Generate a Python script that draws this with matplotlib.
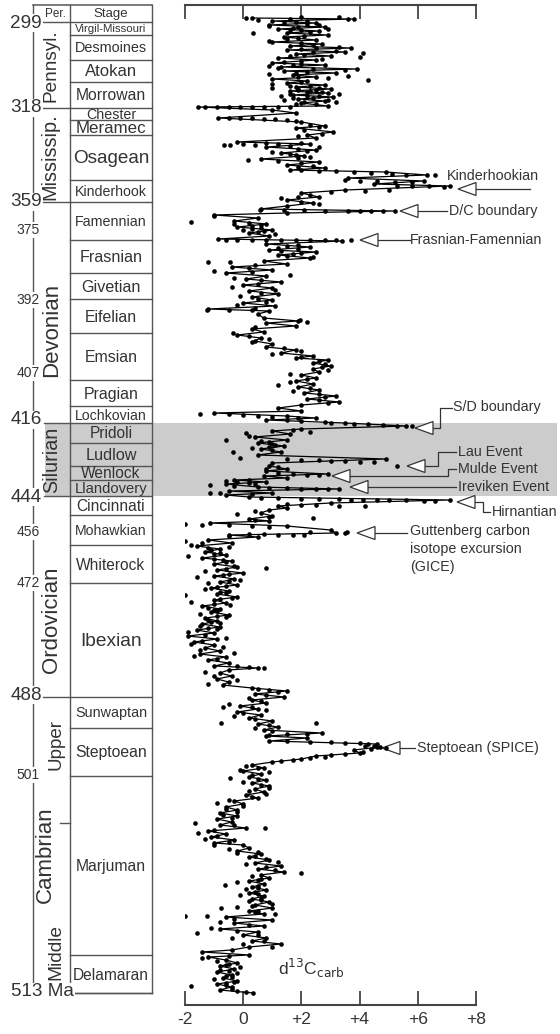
import numpy as np
import matplotlib.pyplot as plt
from matplotlib.patches import Rectangle, Polygon

plt.rcParams['font.family'] = ['Liberation Sans', 'DejaVu Sans']

# ---- stratigraphic column (position units: 5 = top, 993 = base) ----
stage_names = ['Virgil-Missouri', 'Desmoines', 'Atokan', 'Morrowan', 'Chester', 'Meramec',
               'Osagean', 'Kinderhook', 'Famennian', 'Frasnian', 'Givetian', 'Eifelian',
               'Emsian', 'Pragian', 'Lochkovian', 'Pridoli', 'Ludlow', 'Wenlock', 'Llandovery',
               'Cincinnati', 'Mohawkian', 'Whiterock', 'Ibexian', 'Sunwaptan', 'Steptoean',
               'Marjuman', 'Delamaran']
stage_edges = [22, 35, 60, 82, 108, 120, 135, 180, 202, 240, 273, 299, 333, 380, 406, 423,
               443, 466, 480, 496, 515, 545, 583, 697, 728, 776, 955, 993]

period_names = ['Pennsyl.', 'Mississip.', 'Devonian', 'Silurian', 'Ordovician', 'Upper',
                'Cambrian', 'Middle']
period_mid = [66, 157, 330, 460, 620, 744, 855, 952]

age_labels = ['299', '318', '359', '375', '392', '407', '416', '444', '456', '472', '488',
              '501', '513 Ma']
age_pos = [23, 108, 202, 230, 300, 373, 420, 497, 532, 583, 695, 775, 992]
major_ages = ['299', '318', '359', '416', '444', '488', '513 Ma']

# Silurian interval (shaded)
silurian = (423, 496)

# ---- d13C carb: running trace (position, permil) ----
trace = np.array([
    (18, 0.3), (19, 3.8), (21, 1.0), (23, 2.5), (25, 0.9), (27, 2.8), (29, 1.2), (31, 2.6),
    (33, 1.5), (35, 2.9), (37, 1.4), (40, 2.5), (42, 1.0), (44, 2.7), (46, 1.6), (48, 3.7),
    (50, 1.5), (52, 3.5), (54, 1.8), (56, 3.0), (58, 1.2), (60, 2.5), (63, 1.0), (65, 2.8),
    (67, 1.3), (69, 3.9), (71, 1.4), (73, 3.2), (75, 1.7), (77, 2.5), (79, 1.0), (81, 2.2),
    (83, 1.5), (85, 2.8), (87, 1.8), (89, 3.0), (91, 1.6), (93, 2.9), (95, 1.7), (97, 3.1),
    (99, 1.9), (101, 2.8), (103, 2.0), (106, 2.9), (107, -1.55), (110, 1.0), (113, 1.8),
    (118, -0.85), (122, 2.0), (126, 2.8), (128, 1.8), (132, 3.1), (135, 2.2), (138, 2.5),
    (142, -0.2), (144, 2.3), (147, 0.8), (150, 2.5), (153, 1.3), (156, 2.1), (159, 0.6),
    (162, 2.6), (165, 1.5), (168, 2.8), (170, 1.6), (172, 4.9), (175, 6.3), (178, 3.6),
    (181, 6.2), (184, 4.5), (186, 7.1), (190, 3.5), (193, 2.0), (197, 2.6), (200, 1.5),
    (203, 2.4), (206, 1.5), (209, 0.6), (211, 5.2), (213, 1.5), (215, -1.0), (218, 0.5),
    (221, -0.3), (224, 0.8), (227, -0.2), (230, 1.0), (233, 0.2), (236, 0.9), (239, -0.85),
    (241, 3.4), (244, 0.8), (247, 2.3), (250, 0.9), (252, 2.5), (255, 1.2), (258, 2.3),
    (261, 0.7), (264, 1.5), (267, -0.4), (270, 1.0), (273, -0.6), (276, 0.8), (279, 0.1),
    (282, 1.3), (285, 0.0), (288, 1.0), (291, 0.2), (294, 1.2), (297, 0.3), (300, 1.0),
    (303, 0.0), (306, 1.1), (309, -1.2), (311, 0.9), (314, 0.5), (318, 0.7), (321, 1.9),
    (323, 0.8), (326, 1.8), (329, 0.3), (332, 0.7), (335, -0.2), (338, 0.6), (341, 0.4),
    (344, 1.0), (347, 0.8), (350, 1.8), (353, 1.3), (356, 2.4), (358, 1.8), (360, 2.9),
    (363, 2.4), (366, 3.0), (369, 2.4), (372, 2.6), (375, 2.0), (378, 2.5), (381, 1.8),
    (384, 2.4), (387, 1.9), (390, 2.6), (393, 2.1), (396, 3.2), (399, 2.2), (402, 3.3),
    (405, 2.0), (408, 1.2), (411, 2.0), (413, -1.0), (416, 1.5), (418, 2.5), (420, 0.8),
    (423, 3.5), (426, 5.6), (429, 2.0), (431, 1.0), (434, 1.6), (437, 0.4), (440, 1.5),
    (443, 0.5), (446, 1.4), (449, 0.6), (452, 1.3), (455, 0.5), (459, 4.9), (463, 1.0),
    (466, 0.9), (469, 1.5), (471, 0.8), (474, 2.9), (476, 0.7), (478, 1.5), (480, -0.3),
    (482, 0.8), (484, -0.6), (487, 0.5), (489, 3.3), (491, -0.5), (493, 1.0), (495, -0.6),
    (497, 0.2), (500, 7.1), (503, 3.0), (506, 1.2), (508, 1.5), (510, 0.9), (513, 0.6),
    (516, 1.0), (519, 0.2), (521, 0.9), (523, -1.15), (526, 1.5), (530, 3.0), (533, 3.2),
    (535, -0.5), (537, 0.5), (540, -1.2), (543, -0.4), (546, -1.6), (549, -0.8), (552, -1.3),
    (555, -0.6), (558, -1.4), (561, -0.4), (564, -1.0), (567, -0.2), (570, -0.9), (573, 0.0),
    (576, -1.0), (579, -0.3), (582, -0.8), (585, -0.2), (588, -1.1), (591, -0.5), (594, -0.9),
    (597, -0.2), (600, -1.0), (603, -0.6), (606, -1.4), (609, -0.8), (612, -1.1), (615, -0.5),
    (618, -1.3), (621, -0.9), (624, -1.4), (627, -0.8), (630, -1.6), (633, -1.0), (636, -1.9),
    (639, -0.9), (642, -1.7), (645, -1.0), (648, -1.3), (651, -0.8), (654, -1.5), (657, -0.6),
    (660, -1.2), (663, -0.5), (666, -1.0), (668, 0.5), (670, -0.5), (673, -0.8), (676, -0.4),
    (679, -0.9), (682, -0.5), (685, -0.7), (688, 0.3), (691, 1.5), (694, 0.4), (697, 1.4),
    (700, 0.3), (703, 0.8), (706, -0.1), (709, 0.5), (712, -0.2), (715, 0.6), (718, 0.2),
    (721, 1.0), (724, 0.5), (727, 1.2), (730, 0.7), (733, 2.7), (736, 0.8), (738, 2.2),
    (741, 0.9), (744, 4.6), (747, 4.7), (750, 3.8), (753, 4.0), (756, 2.5), (759, 2.0),
    (762, 1.0), (765, 0.3), (768, 0.7), (771, 0.0), (774, 0.6), (777, 0.2), (780, 0.8),
    (783, 0.3), (786, 0.9), (789, 0.4), (792, 0.7), (795, 0.1), (798, 0.5), (801, -0.3),
    (804, 0.0), (807, -0.6), (810, -0.2), (813, -0.8), (816, -0.2), (819, -0.9), (822, -0.4),
    (825, -0.8), (828, 0.1), (831, -1.2), (834, -0.6), (837, -1.1), (840, -0.3), (843, -1.0),
    (845, 0.0), (848, 0.2), (851, -0.2), (854, 0.6), (857, 0.2), (860, 0.9), (863, 0.4),
    (866, 1.3), (869, 0.5), (872, 1.4), (875, 0.6), (878, 0.9), (881, 0.2), (884, 0.7),
    (887, 0.3), (890, 0.8), (893, 0.2), (896, 0.7), (899, 0.3), (902, 0.9), (905, 0.4),
    (908, 1.0), (911, 0.2), (914, 0.7), (917, -0.6), (920, 1.0), (923, -0.3), (926, 0.7),
    (929, -0.8), (932, 0.5), (935, 0.0), (938, 0.8), (941, 0.3), (944, 1.3), (947, 0.2),
    (950, -0.4), (952, -1.4), (955, 0.2), (957, -1.2), (960, -0.6), (963, -0.2), (966, -0.8),
    (969, -0.3), (972, -0.9), (975, -0.4), (978, -0.7), (981, -0.2), (984, -0.9), (987, -0.4),
    (990, -0.8), (993, 0.35),
])

# ---- individual samples not on the trace vertices ----
samples = np.array([
    (18, 0.1), (20, 0.5), (17, 2.0), (17, 3.3), (19, 3.6), (22, 1.8), (24, 2.2), (26, 0.9),
    (28, 1.7), (30, 2.0), (32, 2.3), (33, 0.35), (38, 1.9), (41, 0.9), (45, 2.4), (47, 3.3),
    (49, 2.0), (51, 3.2), (53, 4.1), (55, 2.1), (57, 4.0), (59, 2.7), (62, 1.4), (64, 2.0),
    (66, 0.9), (68, 1.2), (70, 3.5), (72, 2.2), (74, 0.9), (76, 3.6), (78, 2.9), (80, 4.3),
    (82, 2.0), (84, 1.0), (86, 2.3), (88, 1.0), (90, 2.5), (92, 2.2), (94, 3.3), (96, 1.3),
    (98, 2.4), (100, 1.4), (102, 3.2), (104, 2.5),
    (19, 1.6), (21, 2.2), (23, 1.4), (25, 2.6), (27, 1.9), (29, 2.9), (31, 1.6), (36, 2.1),
    (39, 1.5), (43, 2.0), (48, 2.5), (52, 2.4), (56, 1.6), (61, 2.0), (65, 1.7), (69, 2.4),
    (73, 1.8), (77, 1.9), (86, 1.6), (88, 2.6), (90, 1.9), (92, 2.7), (94, 1.6), (96, 2.2),
    (98, 1.7), (100, 2.9), (102, 2.1), (104, 1.8), (96, 2.6), (91, 2.3), (89, 1.9),
    (107, -1.3), (107, -0.9), (107, -0.5), (107, -0.1), (107, 0.3), (107, 0.7), (107, 1.2),
    (107, 1.6), (118, -0.5), (118, -0.1), (118, 0.3), (119, 0.7), (119, 1.1), (120, 1.5),
    (121, 1.8), (125, 2.3), (127, 2.6), (130, 2.1), (134, 2.7), (136, 1.9),
    (145, -0.65), (145, -0.45), (144, 0.0), (145, 0.4), (143, 0.8), (144, 1.2), (146, 1.6),
    (143, 2.0), (147, 2.6), (152, 1.0), (155, 1.8), (157, 2.3), (160, 0.17), (161, 1.2),
    (163, 2.0), (166, 2.4), (167, 1.9), (149, 1.9), (151, 2.2), (154, 1.6), (158, 1.9),
    (170, 2.0), (171, 2.6), (171, 3.2), (172, 3.8), (173, 4.4), (174, 5.1), (175, 5.6),
    (175, 6.6), (180, 3.5), (181, 4.0), (181, 4.6), (182, 5.2), (182, 5.8), (186, 5.3),
    (186, 5.8), (186, 6.4), (187, 6.9), (190, 5.0), (191, 4.2), (192, 3.0), (195, 2.3),
    (197, 1.9), (198, 1.3), (202, 2.0), (204, 2.6),
    (210, 0.57), (210, 1.4), (210, 2.1), (211, 2.8), (211, 3.6), (211, 4.0), (211, 4.4),
    (211, 4.8), (216, -1.0), (222, -1.8), (224, -0.3), (226, 0.3), (228, 0.6), (230, 0.0),
    (232, 0.5), (234, 1.1), (223, 0.2), (225, 0.6), (229, 0.3), (231, 0.7),
    (240, -0.6), (240, -0.2), (240, 0.3), (240, 0.8), (240, 1.3), (240, 1.8), (240, 2.3),
    (240, 2.8), (240, 3.2), (240, 3.7), (246, 1.5), (249, 1.9), (251, 1.3), (254, 1.7),
    (257, 2.4), (262, -1.2), (262, -0.45), (265, 0.4), (268, 0.2), (271, -1.0), (272, 0.3),
    (275, 1.6), (278, -0.3), (280, 0.6), (284, 0.5), (287, -0.4), (290, 1.1), (293, 0.6),
    (296, -0.1), (299, 0.5), (302, 0.8), (305, -0.2), (308, 0.4), (245, 1.9), (248, 1.2),
    (253, 2.0), (256, 1.5),
    (310, -1.25), (310, -0.5), (310, 0.3), (320, 1.95), (322, 2.2), (327, 0.4), (333, -0.35),
    (336, 0.2), (339, 0.9), (342, 0.3), (348, 1.4), (351, 2.0), (354, 1.0), (357, 2.0),
    (361, 2.6), (364, 2.8), (367, 2.7), (370, 2.9), (374, 1.6), (379, 2.2), (382, 1.6),
    (385, 1.2), (388, 2.3), (391, 1.7), (394, 2.6), (397, 2.8), (400, 2.6), (403, 2.9),
    (414, -1.5), (414, -0.5), (415, 0.0), (416, 0.5), (417, 1.0), (418, 1.9), (420, 1.5),
    (421, 2.0), (422, 2.8), (423, 3.0), (424, 3.8), (424, 4.3), (425, 4.8), (426, 5.3),
    (426, 5.8), (430, 1.7), (432, 2.3), (433, 0.1), (436, 0.2), (440, -0.6), (442, 0.9),
    (445, 1.1), (448, 0.3), (452, -0.34), (458, -0.1), (441, 0.6), (444, 1.0), (447, 0.9),
    (450, 1.0),
    (459, 1.5), (460, 2.0), (460, 2.6), (461, 3.0), (461, 3.5), (462, 4.0), (462, 4.5),
    (466, 5.3), (467, 1.2), (469, 0.8), (473, 1.2), (474, 1.7), (475, 2.2), (475, 2.6),
    (480, 0.2), (481, -0.6), (483, 0.2), (485, -1.15), (486, -0.3), (482, -0.2), (484, 0.4),
    (488, 0.9), (488, 1.5), (489, 2.0), (489, 2.5), (489, 2.9), (493, -1.15), (493, -0.8),
    (494, 0.3),
    (498, 0.6), (498, 1.2), (499, 2.0), (499, 2.6), (499, 3.3), (500, 3.7), (500, 4.1),
    (500, 4.6), (500, 5.0), (500, 5.6), (501, 6.2), (501, 6.6), (504, 1.5), (505, 2.0),
    (505, 2.5), (506, 3.3), (506, 4.2), (511, 0.4), (514, -0.2), (517, 0.9), (518, 2.4),
    (520, 0.4), (524, -2.0), (525, -1.4), (525, -0.5), (526, 0.3), (527, 0.9),
    (532, 2.3), (532, 3.55), (533, 3.5), (534, 0.2), (534, 0.7), (535, 1.2), (535, 1.7),
    (535, 2.1), (536, -0.5),
    (541, -2.0), (543, -1.4), (545, -1.8), (547, -0.5), (550, -1.1), (553, -0.8), (556, -1.9),
    (559, -1.0), (562, -0.6), (565, -2.2), (566, -0.3), (568, 0.8), (571, -1.3), (574, -0.5),
    (577, -1.6), (580, -0.1), (583, -1.2), (586, -0.6), (589, -1.3), (592, -0.8), (595, -2.0),
    (598, -0.4), (602, -1.8), (605, -0.45), (608, -1.2), (611, -0.9), (614, -1.5), (617, -0.6),
    (620, -1.2), (623, -0.8), (626, -1.5), (629, -0.9), (632, -1.9), (635, -1.3), (638, -0.6),
    (641, -1.4), (644, -1.8), (647, -0.7), (650, -1.5), (653, -0.3), (656, -1.7), (659, -0.9),
    (548, -1.2), (554, -1.0), (560, -0.7), (569, -0.6), (575, -0.7), (581, -0.5), (587, -0.9),
    (593, -0.6), (599, -0.8), (604, -1.0), (610, -1.0), (616, -0.9), (622, -1.1), (628, -1.2),
    (666, -0.2), (667, 0.2), (668, 0.7), (672, -1.3), (676, -1.0), (680, -0.2), (684, -1.2),
    (689, 0.5), (690, 0.9), (692, 1.2), (695, 0.8), (698, 0.2), (701, 0.6), (704, -0.5),
    (707, 0.3), (707, -0.7), (710, 0.8), (713, 0.0), (716, -0.3), (719, 0.4),
    (723, -0.75), (723, 2.5), (725, 0.9), (728, 0.4), (731, 1.0), (734, 1.5), (734, 2.2),
    (735, 0.9),
    (741, 1.5), (742, 2.3), (742, 3.0), (743, 3.5), (743, 4.0), (744, 4.3), (746, 4.5),
    (746, 4.2), (747, 4.6), (748, 4.9), (749, 4.4), (752, 4.1), (754, 3.5), (755, 3.0),
    (757, 2.8), (758, 2.3), (760, 1.7), (761, 1.3),
    (766, 0.1), (768, 0.5), (770, -0.1), (772, 0.9), (775, 0.3), (778, -0.46), (779, 0.5),
    (782, 0.0), (785, 0.6), (788, 0.9), (791, 0.2), (794, 0.8), (797, 0.3),
    (800, -0.5), (803, -0.9), (806, 0.0), (809, -0.6), (812, -0.2), (815, -0.7), (818, -0.4),
    (823, -1.66), (825, -0.3), (828, 0.75), (830, -1.0), (833, -1.55), (836, -0.9),
    (839, -1.3), (842, -0.5), (845, -1.0), (849, -0.5), (852, 0.5), (853, -0.2), (856, 0.4),
    (859, 0.8), (862, 1.2), (864, 0.1), (867, 0.8), (870, 1.1), (873, 2.0), (876, 0.3),
    (879, 0.6), (882, -0.2), (885, -0.63), (886, 0.5), (889, 0.1), (892, 0.4), (895, -0.1),
    (898, 0.6), (901, 0.2), (904, 1.0), (907, -0.2), (908, -0.75), (911, 0.5), (914, 1.1),
    (916, -2.0), (916, -1.25), (919, -0.3), (922, -0.8), (925, 0.2), (928, -1.1), (931, -0.2),
    (933, -1.6), (935, 0.5), (938, -0.4), (941, 0.7), (944, 0.0), (947, 1.0),
    (880, 0.5), (888, 0.5), (894, 0.5), (900, 0.6), (906, 0.3), (912, 0.4),
    (954, -2.2), (957, -2.2), (960, -2.2), (956, -0.5), (958, -1.4), (961, -0.9), (964, -0.5),
    (967, -0.1), (970, -0.8), (973, -0.2), (976, -0.6), (979, -1.0), (982, -0.3), (985, -0.6),
    (986, -1.8), (989, -0.4), (991, -0.2), (992, 0.1), (965, -0.6), (971, -0.5), (977, -0.4),
    (983, -0.6),
])

# ---- labelled events ----
events = ['Kinderhookian', 'D/C boundary', 'Frasnian-Famennian', 'S/D boundary', 'Lau Event',
          'Mulde Event', 'Ireviken Event', 'Hirnantian',
          'Guttenberg carbon\nisotope excursion\n(GICE)', 'Steptoean (SPICE)']

xticks = [-2, 0, 2, 4, 6, 8]
xtick_labels = ['-2', '0', '+2', '+4', '+6', '+8']

# ================= drawing =================
W, H = 560, 1034
fig = plt.figure(figsize=(W / 100, H / 100), dpi=100)

# background axes in pixel units for the column and annotations
bg = fig.add_axes([0, 0, 1, 1])
bg.set_xlim(0, W)
bg.set_ylim(H, 0)
bg.axis('off')

ink = '#333333'
lc = '#555555'

# shaded Silurian band
bg.add_patch(Rectangle((45, silurian[0]), 557 - 45, silurian[1] - silurian[0],
                       facecolor='#cccccc', edgecolor='none', zorder=0))

# column frame
x_left, x_mid, x_right = 33, 70, 152
bg.plot([x_left, x_right], [5, 5], color=lc, lw=1.1)
bg.plot([x_left, x_right], [22, 22], color=lc, lw=1.0)
bg.plot([x_mid, x_mid], [5, 993], color=lc, lw=1.0)
bg.plot([x_right, x_right], [5, 993], color=lc, lw=1.0)
bg.plot([x_left, x_left], [5, 985], color=lc, lw=1.0, zorder=1)
for e in stage_edges[1:]:
    bg.plot([x_mid, x_right], [e, e], color=lc, lw=1.0)
for e in [108, 202, 697]:
    bg.plot([40, x_mid], [e, e], color=lc, lw=1.0)
for e in [423, 496]:
    bg.plot([44, x_mid], [e, e], color=lc, lw=1.0)
bg.plot([75, x_right], [993, 993], color=lc, lw=1.0)
bg.plot([60, x_mid], [823, 823], color=lc, lw=1.0)

bg.text(55, 14, 'Per.', ha='center', va='center', fontsize=8.5, color=ink)
bg.text(111, 14, 'Stage', ha='center', va='center', fontsize=9.5, color=ink)

stage_fs = [8.2, 10.4, 12, 11.3, 10.3, 12.2, 13.6, 10.2, 10.3, 11.6, 11.6, 11.4, 11.4, 11.4,
            10.2, 11.2, 11.7, 11.2, 10.6, 11.2, 10.2, 11.2, 13.8, 10.4, 11.3, 11.3, 11.2]
for name, top, bot, fs in zip(stage_names, stage_edges[:-1], stage_edges[1:], stage_fs):
    bg.text(111, (top + bot) / 2 + 1, name, ha='center', va='center', fontsize=fs, color=ink)

period_x = [51, 50, 52, 52, 51, 56, 45, 56]
period_fs = [13.7, 14.3, 16, 14.2, 16, 13.5, 16, 13.8]
for name, y, x, fs in zip(period_names, period_mid, period_x, period_fs):
    bg.text(x, y, name, rotation=90, ha='center', va='center', fontsize=fs, color=ink)

for lab, y in zip(age_labels, age_pos):
    if lab == '513 Ma':
        bg.text(11, y, lab, ha='left', va='center', fontsize=13.6, color=ink,
                bbox=dict(facecolor='white', edgecolor='none', pad=0.5))
    elif lab in major_ages:
        bg.text(42, y, lab, ha='right', va='center', fontsize=13.6, color=ink,
                bbox=dict(facecolor='white', edgecolor='none', pad=0.5))
    else:
        bg.text(40, y, lab, ha='right', va='center', fontsize=10, color=ink,
                bbox=dict(facecolor='white', edgecolor='none', pad=1.0))

# ---- data axes ----
ax = fig.add_axes([185 / W, (H - 1005) / H, 291 / W, 1000 / H])
ax.patch.set_alpha(0)
ax.set_xlim(-2, 8)
ax.set_ylim(1005, 5)
ax.plot(trace[:, 1], trace[:, 0], color='black', lw=0.9, zorder=3)
ax.scatter(trace[:, 1], trace[:, 0], s=11, color='black', lw=0, zorder=4)
ax.scatter(samples[:, 1], samples[:, 0], s=11, color='black', lw=0, zorder=4)

for side in ['left', 'right']:
    ax.spines[side].set_visible(False)
for side in ['top', 'bottom']:
    ax.spines[side].set_color('#444444')
    ax.spines[side].set_linewidth(1.5)
ax.set_yticks([])
ax.set_xticks(xticks)
ax.set_xticklabels(xtick_labels, fontsize=12.6, color=ink)
ax.tick_params(axis='x', direction='in', length=10, width=1.3, color='#444444',
               top=True, bottom=True, labeltop=False, pad=5)
ax.text(2.35, 968, r'd$^{13}$C$_{\mathrm{carb}}$', ha='center', va='center',
        fontsize=12.5, color=ink)


# ---- event pointers (open triangles, pixel layout) ----
def pointer(tip, path):
    tx, ty = tip
    bg.add_patch(Polygon([(tx, ty), (tx + 18, ty - 6.5), (tx + 18, ty + 6.5)], closed=True,
                         facecolor='white', edgecolor=ink, lw=0.9, zorder=6))
    xs = [tx + 18] + [p[0] for p in path]
    ys = [ty] + [p[1] for p in path]
    bg.plot(xs, ys, color=ink, lw=0.9, zorder=5)


fs_ev = 10.3
pointer((458, 189), [(530, 189)])
bg.text(447, 176, events[0], ha='left', va='center', fontsize=fs_ev, color=ink)
pointer((400, 211), [(447, 211)])
bg.text(449, 211, events[1], ha='left', va='center', fontsize=fs_ev, color=ink)
pointer((360, 240), [(410, 240)])
bg.text(410, 240, events[2], ha='left', va='center', fontsize=fs_ev, color=ink)
pointer((415, 428), [(440, 428), (440, 408), (452, 408)])
bg.text(453, 407, events[3], ha='left', va='center', fontsize=fs_ev, color=ink)
pointer((407, 466), [(438, 466), (438, 452), (456, 452)])
bg.text(458, 452, events[4], ha='left', va='center', fontsize=fs_ev, color=ink)
pointer((332, 476), [(448, 476), (448, 469), (456, 469)])
bg.text(458, 469, events[5], ha='left', va='center', fontsize=fs_ev, color=ink)
pointer((350, 487), [(456, 487)])
bg.text(458, 487, events[6], ha='left', va='center', fontsize=fs_ev, color=ink)
pointer((457, 502), [(483, 502), (483, 512), (490, 512)])
bg.text(492, 512, events[7], ha='left', va='center', fontsize=fs_ev, color=ink)
pointer((357, 533), [(407, 533)])
bg.text(410, 524, events[8], ha='left', va='top', fontsize=fs_ev, color=ink, linespacing=1.35)
pointer((382, 748), [(415, 748)])
bg.text(417, 748, events[9], ha='left', va='center', fontsize=fs_ev, color=ink)

fig.savefig('out.png', dpi=100)
